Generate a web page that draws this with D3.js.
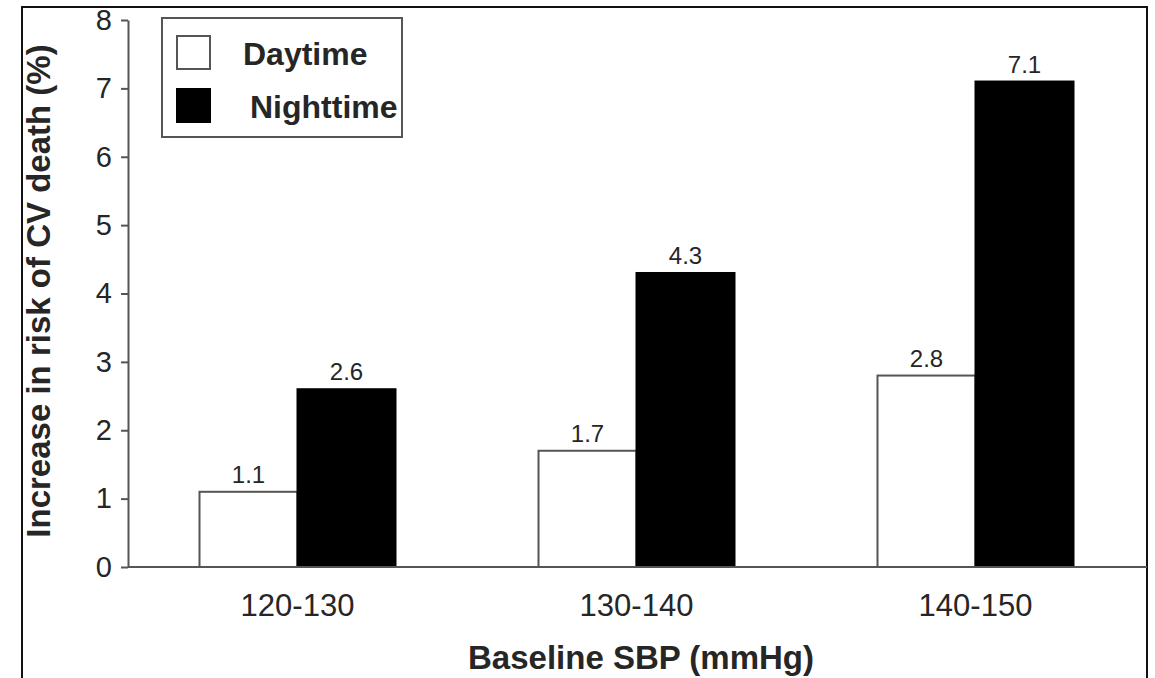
<!DOCTYPE html>
<html>
<head>
<meta charset="utf-8">
<script src="https://cdn.jsdelivr.net/npm/d3@7"></script>
<style>
  body { margin: 0; background: #fff; }
  svg { display: block; font-family: "Liberation Sans", Arial, sans-serif; }
</style>
</head>
<body>
<svg id="chart" width="1155" height="678"></svg>
<script>
// data
const categories = ['120-130', '130-140', '140-150'];
const seriesNames = ['Daytime', 'Nighttime'];
const daytime = [1.1, 1.7, 2.8];
const nighttime = [2.6, 4.3, 7.1];
const yTicks = [0, 1, 2, 3, 4, 5, 6, 7, 8];

const svg = d3.select('#chart');
const width = 1155, height = 678;
const margin = { left: 128, right: 10, top: 20, bottom: 111 };
const textColor = '#262626';
const axisColor = '#555';
const fontFamily = '"Liberation Sans", Arial, sans-serif';

// outer frame (open at the bottom)
svg.append('path')
    .attr('d', `M22,${height} V7 H1147 V${height}`)
    .attr('fill', 'none')
    .attr('stroke', '#111')
    .attr('stroke-width', 2);

const x = d3.scaleBand()
    .domain(categories)
    .range([margin.left, 1145])
    .padding(0);

const y = d3.scaleLinear()
    .domain([0, 8])
    .range([height - margin.bottom, margin.top]);

const barW = 98;
const series = [
    { name: seriesNames[0], values: daytime, fill: '#fff', offset: -barW },
    { name: seriesNames[1], values: nighttime, fill: '#000', offset: 0 }
];

// bars
series.forEach(s => {
    const g = svg.append('g');
    g.selectAll('rect')
        .data(categories)
        .enter()
        .append('rect')
        .attr('x', (d) => x(d) + x.bandwidth() / 2 + s.offset)
        .attr('y', (d, i) => y(s.values[i]))
        .attr('width', barW)
        .attr('height', (d, i) => y(0) - y(s.values[i]))
        .attr('fill', s.fill)
        .attr('stroke', s.fill === '#000' ? '#000' : axisColor)
        .attr('stroke-width', 2);

    g.selectAll('text')
        .data(categories)
        .enter()
        .append('text')
        .attr('x', (d) => x(d) + x.bandwidth() / 2 + s.offset + barW / 2)
        .attr('y', (d, i) => y(s.values[i]) - 9)
        .attr('text-anchor', 'middle')
        .attr('font-size', 24)
        .attr('fill', textColor)
        .text((d, i) => s.values[i].toFixed(1));
});

// y axis
const yAxis = svg.append('g')
    .attr('transform', `translate(${margin.left},0)`)
    .call(d3.axisLeft(y).tickValues(yTicks).tickSize(7).tickPadding(9).tickSizeOuter(0));
yAxis.select('.domain').attr('stroke', axisColor).attr('stroke-width', 2);
yAxis.selectAll('.tick line').attr('stroke', axisColor).attr('stroke-width', 2);
yAxis.selectAll('.tick text')
    .attr('font-size', 29)
    .attr('font-family', fontFamily)
    .attr('fill', textColor);

// x axis
const xAxis = svg.append('g')
    .attr('transform', `translate(0,${y(0)})`)
    .call(d3.axisBottom(x).tickSize(0).tickPadding(27));
xAxis.select('.domain')
    .attr('d', `M${margin.left},0H1147`)
    .attr('stroke', axisColor).attr('stroke-width', 2);
xAxis.selectAll('.tick text')
    .attr('font-size', 31)
    .attr('font-family', fontFamily)
    .attr('fill', textColor);

// axis titles
svg.append('text')
    .attr('transform', `translate(50,291) rotate(-90)`)
    .attr('text-anchor', 'middle')
    .attr('font-size', 33)
    .attr('font-weight', 'bold')
    .attr('fill', textColor)
    .text('Increase in risk of CV death (%)');

svg.append('text')
    .attr('x', 641)
    .attr('y', 669)
    .attr('text-anchor', 'middle')
    .attr('font-size', 33)
    .attr('font-weight', 'bold')
    .attr('fill', textColor)
    .text('Baseline SBP (mmHg)');

// legend
const legend = svg.append('g');
legend.append('rect')
    .attr('x', 162).attr('y', 18)
    .attr('width', 240).attr('height', 119)
    .attr('fill', '#fff')
    .attr('stroke', axisColor)
    .attr('stroke-width', 2);

const legendRows = [
    { name: seriesNames[0], fill: '#fff', stroke: axisColor, y: 36, tx: 243, base: 65 },
    { name: seriesNames[1], fill: '#000', stroke: '#000', y: 89, tx: 250, base: 118 }
];
legendRows.forEach(r => {
    legend.append('rect')
        .attr('x', 177).attr('y', r.y)
        .attr('width', 33).attr('height', 33)
        .attr('fill', r.fill)
        .attr('stroke', r.stroke)
        .attr('stroke-width', 2);
    legend.append('text')
        .attr('x', r.tx)
        .attr('y', r.base)
        .attr('font-size', 32)
        .attr('font-weight', 'bold')
        .attr('fill', textColor)
        .text(r.name);
});
</script>
</body>
</html>
